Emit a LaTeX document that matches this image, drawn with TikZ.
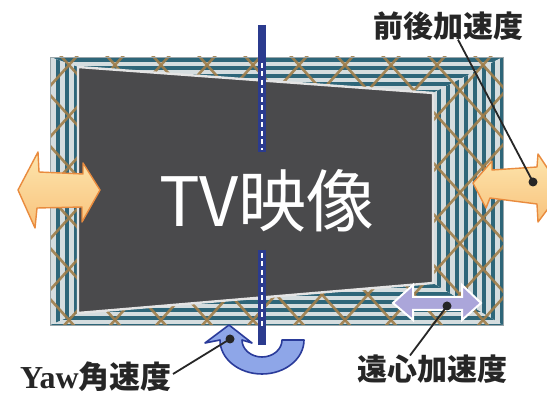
\documentclass[tikz,border=0pt]{standalone}
\usepackage{fontspec}
\setmainfont{Liberation Serif}
\newfontfamily\jpsans{Noto Sans CJK JP}

\definecolor{frameteal}{HTML}{2E6679}
\definecolor{framelight}{HTML}{D5DDDF}
\definecolor{frameedge}{HTML}{9AA6AA}
\definecolor{latticebrown}{HTML}{A07E4A}
\definecolor{screengray}{HTML}{4A4A4C}
\definecolor{screenedge}{HTML}{E4E4E4}
\definecolor{axisblue}{HTML}{2B3B8E}
\definecolor{peachlight}{HTML}{FDE6AE}
\definecolor{peachdark}{HTML}{F8C27C}
\definecolor{peachedge}{HTML}{E98B3E}
\definecolor{lilac}{HTML}{ABA6DA}
\definecolor{yawfill}{HTML}{8EA6E8}
\definecolor{yawedge}{HTML}{2A3B9A}
\definecolor{labelink}{HTML}{262626}

\begin{document}
\begin{tikzpicture}[x=1pt,y=-1pt,
  hstripe/.style={frameteal,line width=3.8pt},
  vstripe/.style={frameteal,line width=4.4pt},
  lattice/.style={latticebrown,line width=2.6pt,opacity=0.9},
  axisbar/.style={axisblue,line width=8pt},
  axisdash/.style={white,line width=1.8pt,dash pattern=on 5pt off 3.5pt},
  peacharrow/.style={draw=peachedge,line width=1.4pt,line join=round,
                     top color=peachlight,bottom color=peachdark},
  lilacarrow/.style={draw=white,fill=lilac,line width=2pt,line join=miter},
  yawarrow/.style={draw=yawedge,fill=yawfill,line width=1.6pt,line join=round},
  leader/.style={labelink,line width=1.8pt},
  leaderdot/.style={labelink},
  jplabel/.style={text=labelink,inner sep=1pt,font=\jpsans\bfseries\fontsize{30}{32}\selectfont},
]
\useasboundingbox (0,0) rectangle (547,395);
\clip (0,0) rectangle (547,395);
\fill[white] (0,0) rectangle (547,395);

% outer frame and screen corners
\coordinate (oTL) at (50,57);
\coordinate (oTR) at (503,57);
\coordinate (oBR) at (503,325);
\coordinate (oBL) at (50,325);
\coordinate (sTL) at (78,67);
\coordinate (sTR) at (433,93);
\coordinate (sBR) at (433,283);
\coordinate (sBL) at (78,313);

% top border: horizontal stripes
\begin{scope}
  \clip (oTL) -- (oTR) -- (sTR) -- (sTL) -- cycle;
  \fill[framelight] (oTL) rectangle (oBR);
  \foreach \y in {60,68,...,100} \draw[hstripe] (40,\y) -- (510,\y);
\end{scope}
% bottom border: horizontal stripes
\begin{scope}
  \clip (oBL) -- (oBR) -- (sBR) -- (sBL) -- cycle;
  \fill[framelight] (oTL) rectangle (oBR);
  \foreach \y in {278,286,...,326} \draw[hstripe] (40,\y) -- (510,\y);
\end{scope}
% left border: vertical stripes
\begin{scope}
  \clip (oTL) -- (sTL) -- (sBL) -- (oBL) -- cycle;
  \fill[framelight] (oTL) rectangle (oBR);
  \foreach \x in {58,67,76} \draw[vstripe] (\x,50) -- (\x,330);
\end{scope}
% right border: vertical stripes
\begin{scope}
  \clip (oTR) -- (sTR) -- (sBR) -- (oBR) -- cycle;
  \fill[framelight] (oTL) rectangle (oBR);
  \foreach \x in {439,448,...,502} \draw[vstripe] (\x,50) -- (\x,330);
\end{scope}

% diamond lattice over the frame
\begin{scope}
  \clip (oTL) rectangle (oBR);
  \foreach \k in {-9,...,16} {
    \draw[lattice] ({115+46*\k-276},-241) -- ({115+46*\k+276},371);
    \draw[lattice] ({115+46*\k+276},-241) -- ({115+46*\k-276},371);
  }
\end{scope}
\draw[frameedge,line width=0.8pt] (oTL) rectangle (oBR);

% the screen
\fill[screengray] (sTL) -- (sTR) -- (sBR) -- (sBL) -- cycle;
\draw[screenedge,line width=2.4pt,line join=round] (sTL) -- (sTR) -- (sBR) -- (sBL) -- cycle;
\node[text=white,font=\jpsans\fontsize{68}{70}\selectfont,inner sep=0pt] (tv) at (267,201) {TV映像};

% yaw axis
\coordinate (axTop) at (262,25);
\coordinate (axUpEnd) at (262,152);
\coordinate (axLowTop) at (262,250);
\coordinate (axBot) at (262,345);
\coordinate (dashUpA) at (262,63);
\coordinate (dashUpB) at (262,150);
\coordinate (dashLowA) at (262,253);
\coordinate (dashLowB) at (262,326);

% yaw rotation arrow (half ring in perspective)
\coordinate (ringC) at (262,340);
\draw[yawarrow] (304,340)
  arc[start angle=0,end angle=180,x radius=42,y radius=34]
  -- (205,343) -- (229,325) -- (252,343) -- (242,340)
  arc[start angle=180,end angle=0,x radius=20,y radius=17]
  -- cycle;

\draw[axisbar] (axTop) -- (axUpEnd);
\draw[axisdash] (dashUpA) -- (dashUpB);
\draw[axisbar] (axLowTop) -- (axBot);
\draw[axisdash] (dashLowA) -- (dashLowB);

% lateral double arrows
\draw[peacharrow] (18,190) -- (38,152) -- (39,172) -- (83,174) -- (83,163)
  -- (100,190) -- (82,222) -- (82,207) -- (37,208) -- (35,228) -- cycle;
\draw[peacharrow] (473,183) -- (492,161) -- (492,170) -- (537,167) -- (538,154)
  -- (562,190) -- (538,222) -- (537,204) -- (490,198) -- (486,208) -- cycle;

% centrifugal double arrow
\draw[lilacarrow] (393,303) -- (413,285) -- (413,297) -- (462,297) -- (462,285)
  -- (481,303) -- (462,320) -- (462,310) -- (413,310) -- (413,320) -- cycle;

% labels and leader lines
\node[jplabel] (fb) at (448,26) {前後加速度};
\node[jplabel] (cf) at (432,369) {遠心加速度};
\node[text=labelink,inner sep=1pt,anchor=east] (yaw) at (173,377)
  {\fontsize{32}{34}\selectfont\bfseries Yaw\jpsans\fontsize{31}{33}\selectfont 角速度};

\coordinate (fbDot) at (533,182);
\coordinate (cfDot) at (447,306);
\coordinate (yawDot) at (230,339);

\draw[leader] ([xshift=10pt,yshift=2pt]fb.south) -- (fbDot);
\fill[leaderdot] (fbDot) circle[radius=4.5];
\draw[leader] ([xshift=-22pt,yshift=-2pt]cf.north) -- (cfDot);
\fill[leaderdot] (cfDot) circle[radius=4.5];
\draw[leader] ([yshift=3pt]yaw.east) -- (yawDot);
\fill[leaderdot] (yawDot) circle[radius=4.5];
\end{tikzpicture}
\end{document}
